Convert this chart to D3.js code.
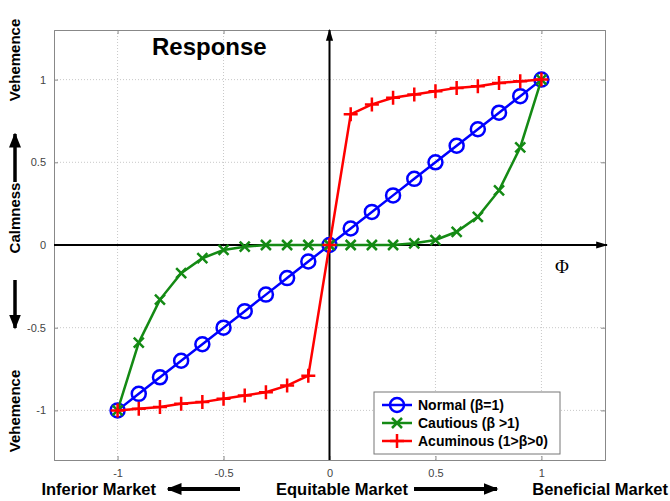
<!DOCTYPE html>
<html>
<head>
<meta charset="utf-8">
<script src="https://cdn.jsdelivr.net/npm/d3@7"></script>
<style>
  body { margin: 0; background: #fff; }
  svg text { font-family: Arial, "Liberation Sans", sans-serif; }
</style>
</head>
<body>
<div id="chart"></div>
<script>
var w = 670;
var h = 501;
var padL = 54, padR = 605, padT = 30, padB = 460;

// phi values, -1 to 1 in steps of 0.1
var phi = [-1, -0.9, -0.8, -0.7, -0.6, -0.5, -0.4, -0.3, -0.2, -0.1, 0,
           0.1, 0.2, 0.3, 0.4, 0.5, 0.6, 0.7, 0.8, 0.9, 1];
var normalVals = [-1, -0.9, -0.8, -0.7, -0.6, -0.5, -0.4, -0.3, -0.2, -0.1, 0,
                  0.1, 0.2, 0.3, 0.4, 0.5, 0.6, 0.7, 0.8, 0.9, 1];
var cautiousVals = [-1, -0.59, -0.33, -0.17, -0.08, -0.03, -0.01, 0, 0, 0, 0,
                    0, 0, 0, 0.01, 0.03, 0.08, 0.17, 0.33, 0.59, 1];
var acuminousVals = [-1, -0.99, -0.98, -0.96, -0.95, -0.93, -0.91, -0.89, -0.85, -0.79, 0,
                     0.79, 0.85, 0.89, 0.91, 0.93, 0.95, 0.96, 0.98, 0.99, 1];
var seriesNames = ["Normal (\u03b2=1)", "Cautious (\u03b2 >1)", "Acuminous (1>\u03b2>0)"];
var seriesColors = ["#0000ff", "#148a14", "#ff0000"];
var xTicks = [-1, -0.5, 0, 0.5, 1];
var yTicks = [-1, -0.5, 0, 0.5, 1];

var xScale = d3.scaleLinear().domain([-1.3, 1.3]).range([padL, padR]);
var yScale = d3.scaleLinear().domain([-1.3, 1.3]).range([padB, padT]);

var svg = d3.select("#chart").append("svg")
    .attr("width", w).attr("height", h);

var defs = svg.append("defs");
defs.append("marker").attr("id", "head")
    .attr("viewBox", "0 0 10 10").attr("refX", 9).attr("refY", 5)
    .attr("markerWidth", 12).attr("markerHeight", 12)
    .attr("markerUnits", "userSpaceOnUse")
    .attr("orient", "auto")
    .append("path").attr("d", "M0,2 L10,5 L0,8 Z").attr("fill", "#000");
defs.append("marker").attr("id", "bighead")
    .attr("viewBox", "0 0 10 10").attr("refX", 9).attr("refY", 5)
    .attr("markerWidth", 15).attr("markerHeight", 15)
    .attr("markerUnits", "userSpaceOnUse")
    .attr("orient", "auto")
    .append("path").attr("d", "M0,1 L10,5 L0,9 Z").attr("fill", "#000");

var fmt = function(d) { return String(d); };

// gridlines
svg.append("g").selectAll("line").data(xTicks.filter(function(d) { return d != 0; }))
  .enter().append("line")
    .attr("x1", function(d) { return xScale(d); }).attr("x2", function(d) { return xScale(d); })
    .attr("y1", padT).attr("y2", padB)
    .attr("stroke", "#c8c8c8").attr("stroke-dasharray", "1,2");
svg.append("g").selectAll("line").data(yTicks.filter(function(d) { return d != 0; }))
  .enter().append("line")
    .attr("y1", function(d) { return yScale(d); }).attr("y2", function(d) { return yScale(d); })
    .attr("x1", padL).attr("x2", padR)
    .attr("stroke", "#c8c8c8").attr("stroke-dasharray", "1,2");

// axes (ticks inside the box, matlab style)
var xAxis = d3.axisBottom(xScale).tickValues(xTicks).tickSize(-4).tickPadding(9).tickFormat(fmt);
var yAxis = d3.axisLeft(yScale).tickValues(yTicks).tickSize(-4).tickPadding(8).tickFormat(fmt);
var gx = svg.append("g").attr("transform", "translate(0," + padB + ")").call(xAxis);
var gy = svg.append("g").attr("transform", "translate(" + padL + ",0)").call(yAxis);
svg.append("g").attr("transform", "translate(0," + padT + ")")
    .call(d3.axisTop(xScale).tickValues(xTicks).tickSize(-4).tickFormat(""));
svg.append("g").attr("transform", "translate(" + padR + ",0)")
    .call(d3.axisRight(yScale).tickValues(yTicks).tickSize(-4).tickFormat(""));
svg.selectAll(".domain").attr("stroke", "#888");
svg.selectAll(".tick line").attr("stroke", "#888");
[gx, gy].forEach(function(g) {
  g.selectAll("text").attr("font-size", "11px").attr("fill", "#444")
    .attr("font-family", "Arial, 'Liberation Sans', sans-serif");
});

// central arrows
svg.append("line")
    .attr("x1", xScale(0)).attr("y1", padB)
    .attr("x2", xScale(0)).attr("y2", padT)
    .attr("stroke", "#000").attr("stroke-width", 2)
    .attr("marker-end", "url(#head)");
svg.append("line")
    .attr("x1", padL).attr("y1", yScale(0))
    .attr("x2", padR + 2).attr("y2", yScale(0))
    .attr("stroke", "#000").attr("stroke-width", 2)
    .attr("marker-end", "url(#head)");
svg.append("text").text("\u03a6")
    .attr("x", 555).attr("y", 273)
    .attr("font-size", "19px")
    .style("font-family", "'Liberation Serif', 'DejaVu Serif', serif");

// series
var allVals = [normalVals, cautiousVals, acuminousVals];
var line = d3.line()
    .x(function(d) { return xScale(d[0]); })
    .y(function(d) { return yScale(d[1]); });

function drawMarker(g, kind, color) {
  if (kind == 0) {
    g.append("circle").attr("r", 7).attr("fill", "none")
      .attr("stroke", color).attr("stroke-width", 2.5);
  } else if (kind == 1) {
    g.append("path").attr("d", "M-5,-5L5,5M-5,5L5,-5")
      .attr("stroke", color).attr("stroke-width", 2.5);
  } else {
    g.append("path").attr("d", "M-7,0L7,0M0,-7L0,7")
      .attr("stroke", color).attr("stroke-width", 2.5);
  }
}

allVals.forEach(function(vals, k) {
  var pts = phi.map(function(p, i) { return [p, vals[i]]; });
  svg.append("path").datum(pts)
      .attr("d", line)
      .attr("fill", "none")
      .attr("stroke", seriesColors[k])
      .attr("stroke-width", 2.5);
  svg.append("g").selectAll("g").data(pts).enter().append("g")
      .attr("transform", function(d) { return "translate(" + xScale(d[0]) + "," + yScale(d[1]) + ")"; })
      .each(function() { drawMarker(d3.select(this), k, seriesColors[k]); });
});

// title
svg.append("text").text("Response")
    .attr("x", 152).attr("y", 55)
    .attr("font-size", "24px").attr("font-weight", "bold");

// legend
var leg = svg.append("g");
leg.append("rect")
    .attr("x", 374).attr("y", 392).attr("width", 186).attr("height", 62)
    .attr("fill", "#fff").attr("stroke", "#777").attr("stroke-width", 1);
seriesNames.forEach(function(name, k) {
  var yy = 405 + k * 18;
  leg.append("line").attr("x1", 382).attr("x2", 412).attr("y1", yy).attr("y2", yy)
      .attr("stroke", seriesColors[k]).attr("stroke-width", 2.5);
  var m = leg.append("g").attr("transform", "translate(397," + yy + ")");
  drawMarker(m, k, seriesColors[k]);
  leg.append("text").text(name)
      .attr("x", 418).attr("y", yy + 5)
      .attr("font-size", "14px").attr("font-weight", "bold");
});

// side labels
function sideLabel(txt, cx, cy) {
  svg.append("text").text(txt)
      .attr("transform", "translate(" + cx + "," + cy + ") rotate(-90)")
      .attr("text-anchor", "middle")
      .attr("font-size", "15px").attr("font-weight", "bold");
}
sideLabel("Vehemence", 20, 60);
sideLabel("Calmness", 20, 218);
sideLabel("Vehemence", 20, 411);
svg.append("line").attr("x1", 15).attr("x2", 15).attr("y1", 182).attr("y2", 134)
    .attr("stroke", "#000").attr("stroke-width", 3.5).attr("marker-end", "url(#bighead)");
svg.append("line").attr("x1", 15).attr("x2", 15).attr("y1", 280).attr("y2", 328)
    .attr("stroke", "#000").attr("stroke-width", 3.5).attr("marker-end", "url(#bighead)");

// bottom labels
function bottomLabel(txt, x, anchor) {
  svg.append("text").text(txt)
      .attr("x", x).attr("y", 495)
      .attr("text-anchor", anchor)
      .attr("font-size", "16.5px").attr("font-weight", "bold");
}
bottomLabel("Inferior Market", 156, "end");
bottomLabel("Equitable Market", 276, "start");
bottomLabel("Beneficial Market", 668, "end");
svg.append("line").attr("x1", 240).attr("x2", 168).attr("y1", 489).attr("y2", 489)
    .attr("stroke", "#000").attr("stroke-width", 4).attr("marker-end", "url(#bighead)");
svg.append("line").attr("x1", 414).attr("x2", 497).attr("y1", 489).attr("y2", 489)
    .attr("stroke", "#000").attr("stroke-width", 4).attr("marker-end", "url(#bighead)");
</script>
</body>
</html>
